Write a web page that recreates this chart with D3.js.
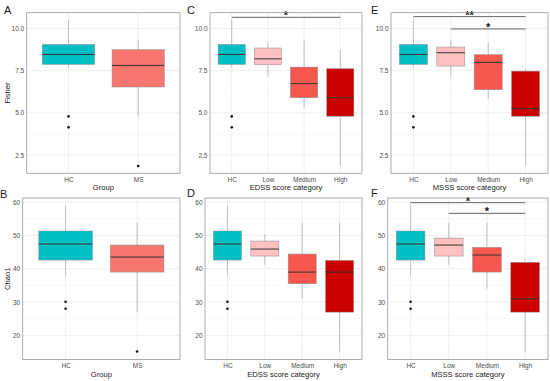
<!DOCTYPE html>
<html>
<head>
<meta charset="utf-8">
<script src="https://cdn.jsdelivr.net/npm/d3@7"></script>
<style>
  body { margin: 0; background: #fff; }
  svg { font-family: "Liberation Sans", Arial, sans-serif; }
</style>
</head>
<body>
<svg width="550" height="381"></svg>
<script>
// categories
var groups = ["HC", "MS"];
var cats = ["HC", "Low", "Medium", "High"];

// box stats: [lower whisker, q1, median, q3, upper whisker]
var fisherHC = [7.70, 7.87, 8.46, 9.05, 10.50];
var fisherHCOut = [4.79, 4.14];
var fisherMS = [4.80, 6.53, 7.81, 8.74, 9.35];
var fisherMSOut = [1.85];
var fisherEdss = [[7.14, 7.85, 8.20, 8.84, 9.19], [5.28, 5.90, 6.73, 7.71, 9.35], [1.85, 4.80, 5.89, 7.61, 8.74]];
var fisherMsss = [[7.14, 7.77, 8.56, 8.90, 9.35], [5.84, 6.37, 7.99, 8.44, 9.15], [1.90, 4.80, 5.25, 7.47, 7.61]];

var chaoHC = [37.9, 42.6, 47.4, 51.3, 59.0];
var chaoHCOut = [30.1, 28.0];
var chaoMS = [27.0, 39.0, 43.5, 47.1, 53.8];
var chaoMSOut = [15.2];
var chaoEdss = [[41.2, 43.8, 45.9, 48.3, 50.2], [31.0, 35.5, 39.0, 44.4, 53.8], [15.2, 27.0, 39.0, 42.5, 53.8]];
var chaoMsss = [[41.2, 43.8, 47.1, 49.2, 53.8], [34.0, 39.0, 44.1, 46.4, 53.8], [15.2, 27.0, 31.0, 41.9, 42.9]];

// significance bars
var sigFisherEdss = [{ from: "HC", to: "High", y: 10.66, label: "*" }];
var sigFisherMsss = [{ from: "HC", to: "High", y: 10.7, label: "**" }, { from: "Low", to: "High", y: 9.97, label: "*" }];
var sigChaoMsss = [{ from: "HC", to: "High", y: 59.8, label: "*" }, { from: "Low", to: "High", y: 56.6, label: "*" }];

var fisherTicks = [2.5, 5.0, 7.5, 10.0];
var chaoTicks = [20, 30, 40, 50, 60];

var colors = { HC: "#00BFC4", MS: "#F8766D", Low: "#FFC0C0", Medium: "#F7574F", High: "#CC0000" };

var svg = d3.select("svg");

function panel(opt) {
	var g = svg.append("g");
	var x = d3.scalePoint().domain(opt.cats).range([opt.x0, opt.x1]).padding(0.6);
	var y = d3.scaleLinear().domain(opt.ydom).range([opt.y1, opt.y0]);
	var bw = x.step() * 0.75;

	// grid
	opt.minor.forEach(function(v) {
		g.append("line").attr("x1", opt.x0).attr("x2", opt.x1)
			.attr("y1", y(v)).attr("y2", y(v))
			.attr("stroke", "#f0f0f0").attr("stroke-width", 0.4);
	});
	opt.ticks.forEach(function(v) {
		g.append("line").attr("x1", opt.x0).attr("x2", opt.x1)
			.attr("y1", y(v)).attr("y2", y(v))
			.attr("stroke", "#e6e6e6").attr("stroke-width", 0.6);
	});
	opt.cats.forEach(function(c) {
		g.append("line").attr("x1", x(c)).attr("x2", x(c))
			.attr("y1", opt.y0).attr("y2", opt.y1)
			.attr("stroke", "#e6e6e6").attr("stroke-width", 0.6);
	});

	// boxes
	opt.cats.forEach(function(c, i) {
		var s = opt.stats[i], cx = x(c);
		g.append("line").attr("x1", cx).attr("x2", cx)
			.attr("y1", y(s[0])).attr("y2", y(s[4]))
			.attr("stroke", "#b3b3b3").attr("stroke-width", 0.8);
		g.append("rect").attr("x", cx - bw / 2).attr("width", bw)
			.attr("y", y(s[3])).attr("height", y(s[1]) - y(s[3]))
			.attr("fill", colors[c]).attr("stroke", "#8c8c8c").attr("stroke-width", 0.5);
		g.append("line").attr("x1", cx - bw / 2).attr("x2", cx + bw / 2)
			.attr("y1", y(s[2])).attr("y2", y(s[2]))
			.attr("stroke", "#333").attr("stroke-width", 1);
		(opt.outliers[i] || []).forEach(function(v) {
			g.append("circle").attr("cx", cx).attr("cy", y(v)).attr("r", 1.3).attr("fill", "#111");
		});
	});

	// significance
	(opt.sig || []).forEach(function(s) {
		g.append("line").attr("x1", x(s.from)).attr("x2", x(s.to))
			.attr("y1", y(s.y)).attr("y2", y(s.y))
			.attr("stroke", "#555").attr("stroke-width", 0.9);
		g.append("text").attr("x", (x(s.from) + x(s.to)) / 2).attr("y", y(s.y) + 2)
			.attr("text-anchor", "middle")
			.style("font-size", "11px").style("font-weight", "bold").style("fill", "#111")
			.text(s.label);
	});

	// frame
	g.append("rect").attr("x", opt.x0).attr("y", opt.y0)
		.attr("width", opt.x1 - opt.x0).attr("height", opt.y1 - opt.y0)
		.attr("fill", "none").attr("stroke", "#999").attr("stroke-width", 0.8);

	// axes
	var tidy = function(a) {
		a.select(".domain").remove();
		a.selectAll("text").attr("font-family", null).attr("font-size", null)
			.style("font-size", "6.5px").style("fill", "#4d4d4d");
	};
	g.append("g").attr("transform", "translate(" + opt.x0 + ",0)")
		.call(d3.axisLeft(y).tickValues(opt.ticks).tickSize(0).tickPadding(2.5).tickFormat(opt.fmt))
		.call(tidy);
	g.append("g").attr("transform", "translate(0," + opt.y1 + ")")
		.call(d3.axisBottom(x).tickSize(0).tickPadding(4))
		.call(tidy);

	g.append("text").attr("text-anchor", "middle")
		.attr("x", (opt.x0 + opt.x1) / 2).attr("y", opt.y1 + 17)
		.style("font-size", "7.6px").style("fill", "#1a1a1a")
		.text(opt.xlab);
	if (opt.ylab) {
		g.append("text").attr("text-anchor", "middle")
			.attr("transform", "translate(" + 9.5 + "," + ((opt.y0 + opt.y1) / 2) + ") rotate(-90)")
			.style("font-size", "7.6px").style("fill", "#1a1a1a")
			.text(opt.ylab);
	}
	g.append("text").attr("x", opt.lx).attr("y", opt.ly)
		.style("font-size", "11px").style("fill", "#1a1a1a")
		.text(opt.letter);
}

var topDom = [1.4175, 10.9325], botDom = [12.8, 61.2];
var topMinor = [3.75, 6.25, 8.75], botMinor = [15, 25, 35, 45, 55];
var f1 = d3.format(".1f"), f0 = d3.format("d");

panel({ letter: "A", lx: 4, ly: 14, x0: 26.7, x1: 180, y0: 12.7, y1: 173.3, cats: groups, ydom: topDom,
	ticks: fisherTicks, minor: topMinor, fmt: f1, stats: [fisherHC, fisherMS], outliers: [fisherHCOut, fisherMSOut],
	xlab: "Group", ylab: "Fisher" });
panel({ letter: "C", lx: 187, ly: 14, x0: 210, x1: 362, y0: 12.7, y1: 173.3, cats: cats, ydom: topDom,
	ticks: fisherTicks, minor: topMinor, fmt: f1, stats: [fisherHC].concat(fisherEdss), outliers: [fisherHCOut],
	xlab: "EDSS score category", sig: sigFisherEdss });
panel({ letter: "E", lx: 371, ly: 14, x0: 391, x1: 548, y0: 12.7, y1: 173.3, cats: cats, ydom: topDom,
	ticks: fisherTicks, minor: topMinor, fmt: f1, stats: [fisherHC].concat(fisherMsss), outliers: [fisherHCOut],
	xlab: "MSSS score category", sig: sigFisherMsss });
panel({ letter: "B", lx: 0, ly: 198, x0: 22.7, x1: 180, y0: 198, y1: 359.5, cats: groups, ydom: botDom,
	ticks: chaoTicks, minor: botMinor, fmt: f0, stats: [chaoHC, chaoMS], outliers: [chaoHCOut, chaoMSOut],
	xlab: "Group", ylab: "Chao1" });
panel({ letter: "D", lx: 187, ly: 197, x0: 205, x1: 362, y0: 198, y1: 359.5, cats: cats, ydom: botDom,
	ticks: chaoTicks, minor: botMinor, fmt: f0, stats: [chaoHC].concat(chaoEdss), outliers: [chaoHCOut],
	xlab: "EDSS score category" });
panel({ letter: "F", lx: 371, ly: 197, x0: 387.7, x1: 548, y0: 198, y1: 359.5, cats: cats, ydom: botDom,
	ticks: chaoTicks, minor: botMinor, fmt: f0, stats: [chaoHC].concat(chaoMsss), outliers: [chaoHCOut],
	xlab: "MSSS score category", sig: sigChaoMsss });
</script>
</body>
</html>
